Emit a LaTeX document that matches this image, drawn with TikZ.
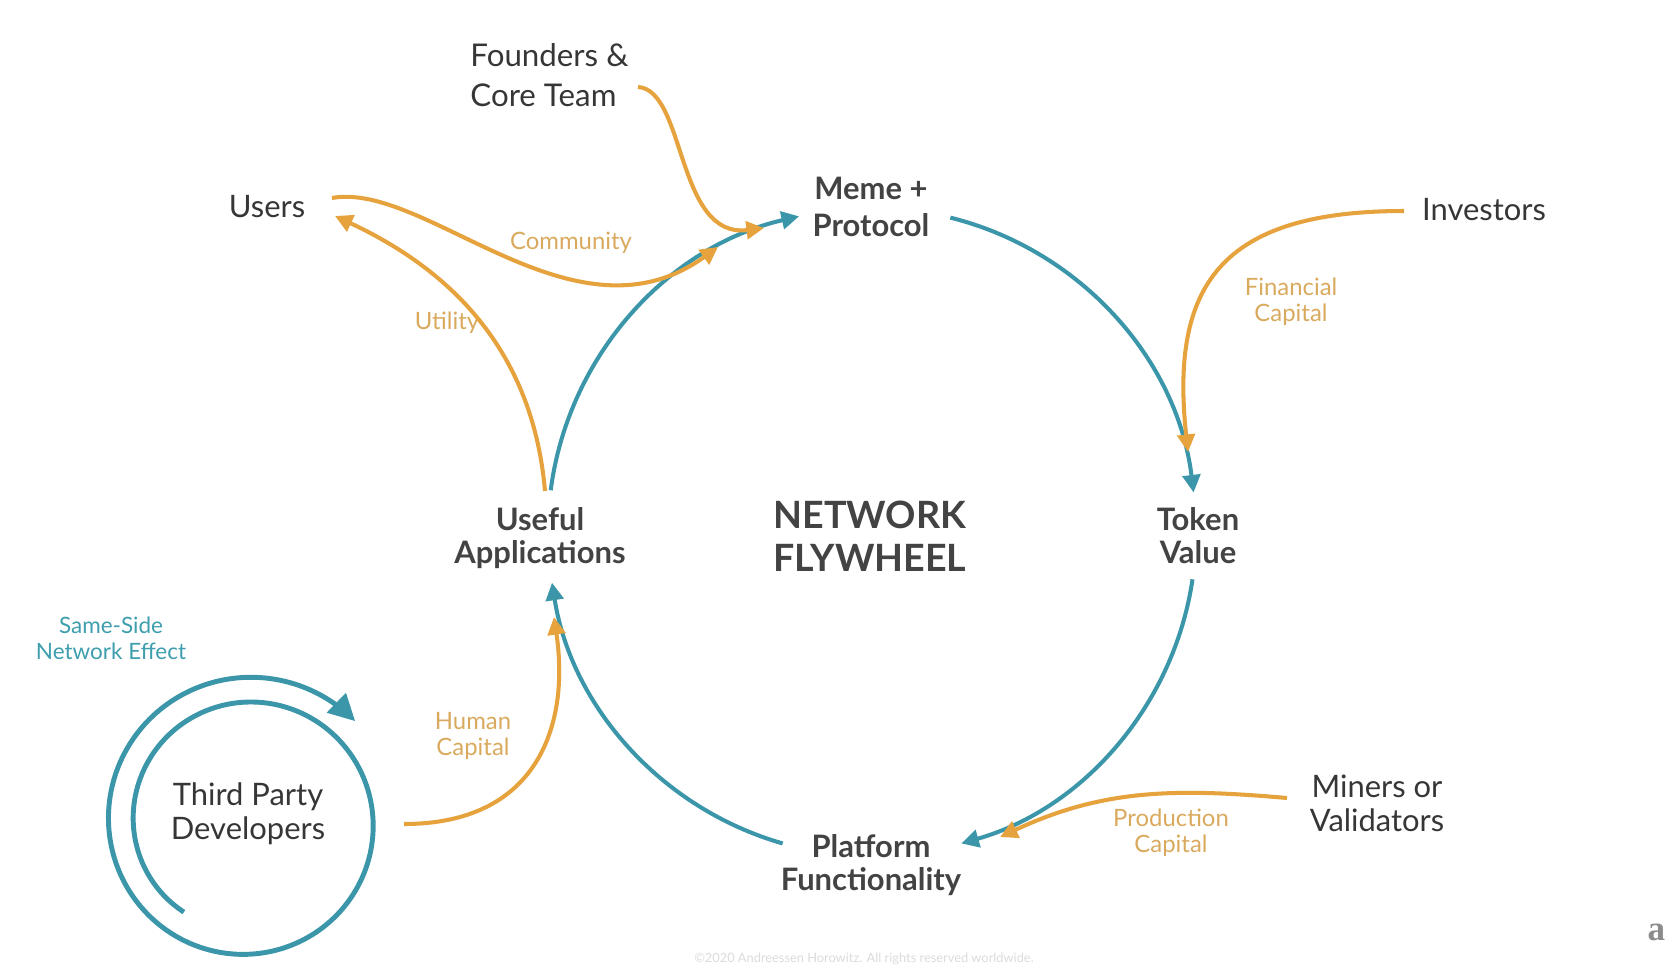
\documentclass[tikz,border=0pt]{standalone}
\usepackage{fontspec}
\setmainfont{Lato}
\newfontfamily\logofont{Liberation Serif}
\usetikzlibrary{arrows.meta}

\definecolor{wheelteal}{HTML}{3A96A8}
\definecolor{feedgold}{HTML}{E6A23C}
\definecolor{capgold}{HTML}{D9AA5E}
\definecolor{sideteal}{HTML}{3E9EAE}
\definecolor{inkgray}{HTML}{363636}
\definecolor{hubgray}{HTML}{434343}

\begin{document}
\begin{tikzpicture}[
		wheel/.style = {draw = wheelteal, line width = 1.15pt, -{Triangle[length = 5pt, width = 5pt]}},
		feed/.style = {draw = feedgold, line width = 1.15pt, -{Triangle[length = 5pt, width = 5pt]}},
		actor/.style = {text = inkgray, font = \fontsize{8.8}{9.6}\selectfont, align = center},
		stage/.style = {text = hubgray, font = \bfseries\fontsize{8.8}{9.4}\selectfont, align = center},
		inflow/.style = {text = capgold, font = \fontsize{6.8}{7.4}\selectfont, align = center}]
		\useasboundingbox (0, 0) rectangle (16.68, 9.66);

		% who feeds the wheel
		\node[actor, anchor = west, align = left, font = \fontsize{8.9}{11.4}\selectfont] (founders) at (4.58, 8.91) {Founders \&\\Core Team};
		\node[actor] (users) at (2.67, 7.59) {Users};
		\node[actor] (investors) at (14.84, 7.56) {Investors};
		\node[actor] (developers) at (2.48, 1.52) {Third Party\\Developers};
		\node[actor] (miners) at (13.77, 1.63) {Miners or\\Validators};

		% the four stages
		\node[stage, font = \bfseries\fontsize{8.8}{10.6}\selectfont] (meme) at (8.71, 7.59) {Meme +\\Protocol};
		\node[stage] (token) at (11.98, 4.30) {Token\\Value};
		\node[stage] (useful) at (5.40, 4.28) {Useful\\Applications};
		\node[stage] (platform) at (8.71, 1.01) {Platform\\Functionality};
		\node[text = hubgray, font = \bfseries\fontsize{10.7}{12.2}\selectfont, align = center] (flywheel) at (8.70, 4.30) {NETWORK\\FLYWHEEL};

		% what flows in
		\node[inflow] (community) at (5.71, 7.23) {Community};
		\node[inflow] (utility) at (4.47, 6.43) {Utility};
		\node[inflow] (financial) at (12.91, 6.64) {Financial\\Capital};
		\node[inflow] (human) at (4.73, 2.30) {Human\\Capital};
		\node[inflow] (production) at (11.71, 1.33) {Production\\Capital};
		\node[inflow, text = sideteal, font = \fontsize{6.4}{7.4}\selectfont] (sameside) at (1.11, 3.28) {Same-Side\\Network Effect};

		% the wheel
		\coordinate (hub) at (8.72, 4.34);
		\foreach \a/\b in {76/7, -8.4/-74, -106/-171, 172.6/103}{
			\draw[wheel] ([shift = {(\a:3.24)}]hub) arc[start angle = \a, end angle = \b, radius = 3.24];}

		% same side spiral
		\draw[wheel, line width = 1.4pt, -{Triangle[length = 7.5pt, width = 7.5pt]}]
			plot[domain = 0:552, samples = 140, smooth, variable = \t]
			({2.47 + (1.10 + 0.00068 * \t) * cos(235 - \t)}, {1.44 + (1.10 + 0.00068 * \t) * sin(235 - \t)});

		% inputs
		\coordinate (founders tail) at (6.38, 8.79);
		\coordinate (founders head) at (7.64, 7.38);
		\coordinate (users tail) at (3.32, 7.68);
		\coordinate (users head) at (3.35, 7.50);
		\coordinate (community head) at (7.18, 7.19);
		\coordinate (useful top) at (5.45, 4.75);
		\coordinate (investors tail) at (14.04, 7.55);
		\coordinate (token head) at (11.88, 5.14);
		\coordinate (miners tail) at (12.87, 1.68);
		\coordinate (platform head) at (10.00, 1.29);
		\coordinate (developers tail) at (4.04, 1.42);
		\coordinate (useful head) at (5.54, 3.49);

		\draw[feed] (founders tail) .. controls (6.86, 8.76) and (6.76, 7.27) .. (founders head);
		\draw[feed] (users tail) .. controls (4.26, 7.85) and (5.74, 6.15) .. (community head);
		\draw[feed] (useful top) to[out = 95, in = -25] (users head);
		\draw[feed] (investors tail) .. controls (12.20, 7.55) and (11.70, 6.80) .. (token head);
		\draw[feed] (miners tail) to[out = 175, in = 25] (platform head);
		\draw[feed] (developers tail) .. controls (5.37, 1.42) and (5.70, 2.40) .. (useful head);

		\node[text = black!14, font = \fontsize{3.65}{4}\selectfont] (rights) at (8.64, 0.07) {©2020 Andreessen Horowitz. All rights reserved worldwide.};
		\node[text = black!45, font = \logofont\bfseries\fontsize{10}{10}\selectfont, anchor = base west, inner sep = 0] (logo) at (16.47, 0.26) {a16z};
\end{tikzpicture}
\end{document}
